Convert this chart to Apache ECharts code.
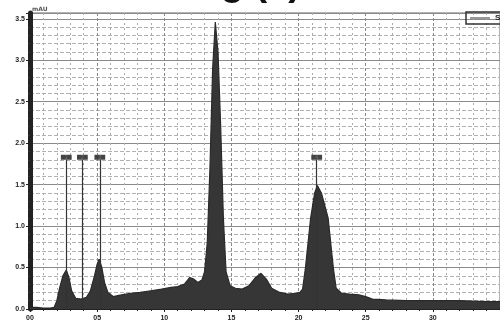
<!DOCTYPE html>
<html>
<head>
<meta charset="utf-8">
<script src="https://cdn.jsdelivr.net/npm/echarts@6/dist/echarts.min.js"></script>
<style>
  html, body { margin: 0; padding: 0; background: #fff; }
  #chart { width: 500px; height: 322px; }
</style>
</head>
<body>
<div id="chart"></div>
<script>
// retention time (min) and detector signal
var times = [0, 0.5, 1.0, 1.5, 1.8, 2.0, 2.2, 2.45, 2.7, 2.9, 3.1, 3.4, 3.8, 4.2, 4.5, 4.8, 5.0, 5.15, 5.35, 5.55, 5.8, 6.2,
  6.8, 7.5, 8.2, 9.0, 9.8, 10.5, 11.0, 11.5, 11.9, 12.2, 12.5, 12.8, 13.0, 13.2, 13.4, 13.6, 13.8, 14.0, 14.2, 14.4, 14.6,
  14.9, 15.3, 15.8, 16.3, 16.8, 17.2, 17.6, 18.0, 18.6, 19.2, 19.8, 20.1, 20.3, 20.5, 20.9, 21.2, 21.4, 21.7, 22.2, 22.6,
  22.8, 23.2, 23.8, 24.5, 25.0, 25.5, 26.5, 28, 30, 32, 34, 35];
var signal = [0.02, 0.02, 0.01, 0.01, 0.02, 0.1, 0.25, 0.4, 0.47, 0.38, 0.22, 0.13, 0.12, 0.14, 0.22, 0.4, 0.54, 0.6, 0.5, 0.32,
  0.2, 0.15, 0.17, 0.19, 0.2, 0.22, 0.24, 0.26, 0.27, 0.3, 0.38, 0.36, 0.32, 0.35, 0.45, 0.8, 1.7, 2.9, 3.46, 3.1, 2.2, 1.1,
  0.45, 0.28, 0.25, 0.24, 0.28, 0.38, 0.43, 0.36, 0.25, 0.2, 0.18, 0.19, 0.2, 0.24, 0.48, 1.1, 1.4, 1.49, 1.4, 1.1, 0.48,
  0.25, 0.19, 0.18, 0.17, 0.15, 0.12, 0.11, 0.1, 0.1, 0.1, 0.09, 0.09];
// marked peaks (vertical lines with label boxes)
var peakTimes = [2.7, 3.9, 5.2, 21.35];
var peakNames = ['1', '2', '3', '4'];
var peakTop = 1.8;

var chart = echarts.init(document.getElementById('chart'), null, { renderer: 'canvas' });

var points = times.map(function (t, i) { return [t, signal[i]]; });
var marks = peakTimes.map(function (t, i) {
  return [{ coord: [t, 0] }, { coord: [t, peakTop], name: peakNames[i] }];
});

var option = {
  animation: false,
  backgroundColor: '#fff',
  graphic: [
    {
      type: 'text', left: 187, top: -34,
      style: { text: 'Fig (c)', font: 'bold 38px "Liberation Sans"', fill: '#111' }
    },
    {
      type: 'text', left: 32, top: 6,
      style: { text: 'mAU', font: 'bold 6px "DejaVu Sans"', fill: '#555' }
    }
  ],
  legend: {
    left: 466, top: 12,
    padding: [2, 4],
    borderColor: '#333', borderWidth: 1.5,
    itemWidth: 20, itemHeight: 2, itemGap: 4,
    textStyle: { fontSize: 8, color: '#222', fontWeight: 'bold' },
    data: [{ name: 'Sample', icon: 'rect', itemStyle: { color: '#999' } }]
  },
  grid: { left: 30, right: 0, top: 13, bottom: 9, show: true, borderColor: '#666', borderWidth: 1 },
  xAxis: {
    type: 'value', min: 0, max: 35, interval: 5,
    axisLine: { lineStyle: { color: '#222', width: 2 } },
    axisTick: { length: 3, lineStyle: { color: '#222' } },
    minorTick: { show: true, splitNumber: 5, length: 2, lineStyle: { color: '#222' } },
    axisLabel: {
      fontSize: 7, fontWeight: 'bold', color: '#222', margin: 6, showMaxLabel: false,
      formatter: function (v) { return (v < 10 ? '0' : '') + v; }
    },
    splitLine: { show: true, lineStyle: { color: '#888', type: [3, 2], width: 1 } },
    minorSplitLine: { show: true, lineStyle: { color: '#aaa', type: [2, 3], width: 1 } }
  },
  yAxis: {
    type: 'value', min: 0, max: 3.57, interval: 0.5,
    axisLine: { show: true, lineStyle: { color: '#222', width: 5 } },
    axisTick: { length: 4, lineStyle: { color: '#222' } },
    minorTick: { show: true, splitNumber: 5, length: 2, lineStyle: { color: '#333' } },
    axisLabel: {
      fontSize: 7, fontWeight: 'bold', color: '#222', margin: 5, showMaxLabel: false,
      formatter: function (v) { return v.toFixed(1); }
    },
    splitLine: { show: true, lineStyle: { color: '#8a8a8a', width: 1.2 } },
    minorSplitLine: { show: true, lineStyle: { color: '#b0b0b0', type: [4, 2] } }
  },
  series: [{
    name: 'Sample',
    type: 'line',
    data: points,
    showSymbol: false,
    lineStyle: { color: '#2a2a2a', width: 1.2 },
    areaStyle: { color: '#363636', opacity: 1 },
    markLine: {
      silent: true,
      symbol: 'none',
      lineStyle: { color: '#333', width: 1.2, type: 'solid' },
      label: {
        show: true, position: 'end', distance: 0,
        formatter: '{b}', fontSize: 5, color: '#777',
        backgroundColor: '#444', padding: [0, 4]
      },
      data: marks
    }
  }]
};

chart.setOption(option);
</script>
</body>
</html>
